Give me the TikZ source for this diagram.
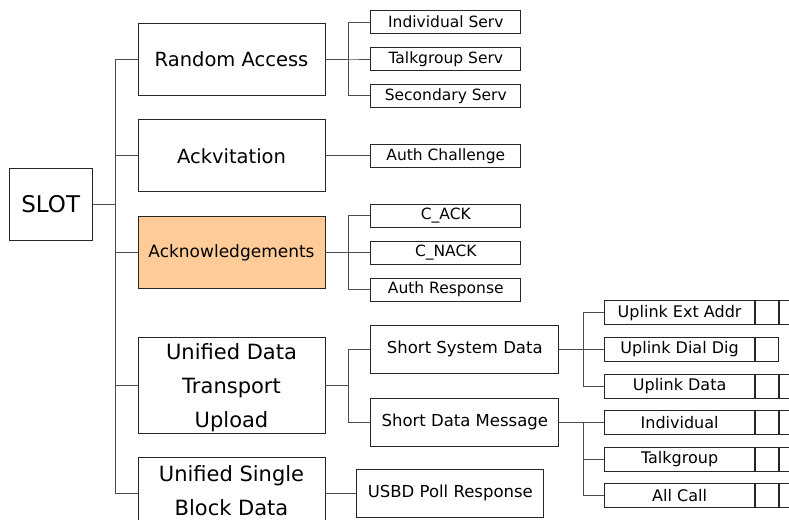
\documentclass[tikz,border=0pt]{standalone}
\usepackage{fontspec}
\setmainfont{DejaVu Sans}
\usepackage{xcolor}
\usetikzlibrary{calc, positioning}

\definecolor{ackfill}{HTML}{FFCC99}

\begin{document}
\begin{tikzpicture}[
  line width=0.8pt,
  box/.style={draw=black!85, inner sep=0pt, align=center},
  rootbox/.style={box, minimum width=83pt, minimum height=72pt, font=\fontsize{23}{27}\selectfont},
  mainbox/.style={box, minimum width=187pt, minimum height=72pt, font=\fontsize{19.5}{23}\selectfont},
  tallbox/.style={mainbox, minimum height=96pt, font=\fontsize{21}{34}\selectfont},
  leafbox/.style={box, minimum width=150pt, minimum height=23pt, font=\fontsize{15.5}{18}\selectfont},
  midbox/.style={box, minimum width=188pt, minimum height=48pt, font=\fontsize{16.5}{19}\selectfont},
  subbox/.style={box, minimum width=150pt, minimum height=24pt, font=\fontsize{16}{19}\selectfont},
  cellbox/.style={box, minimum width=23pt, minimum height=24pt},
  link/.style={draw=black!70, line width=0.9pt}
]

\useasboundingbox (0,0) rectangle (789pt,-519pt);
\clip (0,0) rectangle (789pt,-519pt);

% message types
\node[mainbox] (ra) at (231.5pt,-59pt) {Random Access};
\node[mainbox, below=24pt of ra] (act) {Ackvitation};
\node[mainbox, below=24pt of act, fill=ackfill, font=\fontsize{17}{20}\selectfont] (ack) {Acknowledgements};
\node[tallbox, below=48pt of ack, text depth=-6pt] (udt) {Unified Data\\Transport\\Upload};
\node[tallbox, below=23pt of udt, minimum height=72pt, text depth=6pt] (usbd) {Unified Single\\Block Data};

\coordinate (mid) at ($(act.west)!0.5!(ack.west)$);
\node[rootbox, left=45pt of mid] (slot) {SLOT};

% second level
\node[leafbox, right=45pt of ra] (tgs) {Talkgroup Serv};
\node[leafbox, above=13pt of tgs] (ind) {Individual Serv};
\node[leafbox, below=13pt of tgs] (sec) {Secondary Serv};
\node[leafbox, right=45pt of act] (auth) {Auth Challenge};
\node[leafbox, right=45pt of ack] (cnack) {C\_NACK};
\node[leafbox, above=13pt of cnack] (cack) {C\_ACK};
\node[leafbox, below=13pt of cnack] (aresp) {Auth Response};

\node[midbox, right=45pt of udt, yshift=36pt] (ssd) {Short System Data};
\node[midbox, below=24pt of ssd] (sdm) {Short Data Message};
\node[midbox, right=31pt of usbd, minimum width=187pt] (usbdp) {USBD Poll Response};

% third level
\node[subbox, right=45pt of ssd] (dial) {Uplink Dial Dig};
\node[subbox, above=12pt of dial] (ext) {Uplink Ext Addr};
\node[subbox, below=12pt of dial] (uld) {Uplink Data};
\node[subbox, right=45pt of sdm] (indv) {Individual};
\node[subbox, below=12pt of indv] (tgrp) {Talkgroup};
\node[subbox, below=12pt of tgrp] (allc) {All Call};

\node[cellbox, right=0pt of dial] (dial1) {};
\foreach \b in {ext, uld, indv, tgrp, allc} {
  \node[cellbox, right=0pt of \b] (\b1) {};
  \node[cellbox, right=0pt of \b1] (\b2) {};
}

% connectors
\draw[link] (slot.east) -- ++(23pt,0) coordinate (trunk);
\foreach \n in {ra, act, ack, udt, usbd} \draw[link] (trunk) |- (\n.west);

\foreach \n in {ind, tgs, sec} \draw[link] (ra.east) -- ++(23pt,0) |- (\n.west);
\draw[link] (act) -- (auth);
\foreach \n in {cack, cnack, aresp} \draw[link] (ack.east) -- ++(23pt,0) |- (\n.west);
\foreach \n in {ssd, sdm} \draw[link] (udt.east) -- ++(23pt,0) |- (\n.west);
\draw[link] (usbd) -- (usbdp);

\foreach \n in {ext, dial, uld} \draw[link] (ssd.east) -- ++(24pt,0) |- (\n.west);
\foreach \n in {indv, tgrp, allc} \draw[link] (sdm.east) -- ++(24pt,0) |- (\n.west);

\end{tikzpicture}
\end{document}
